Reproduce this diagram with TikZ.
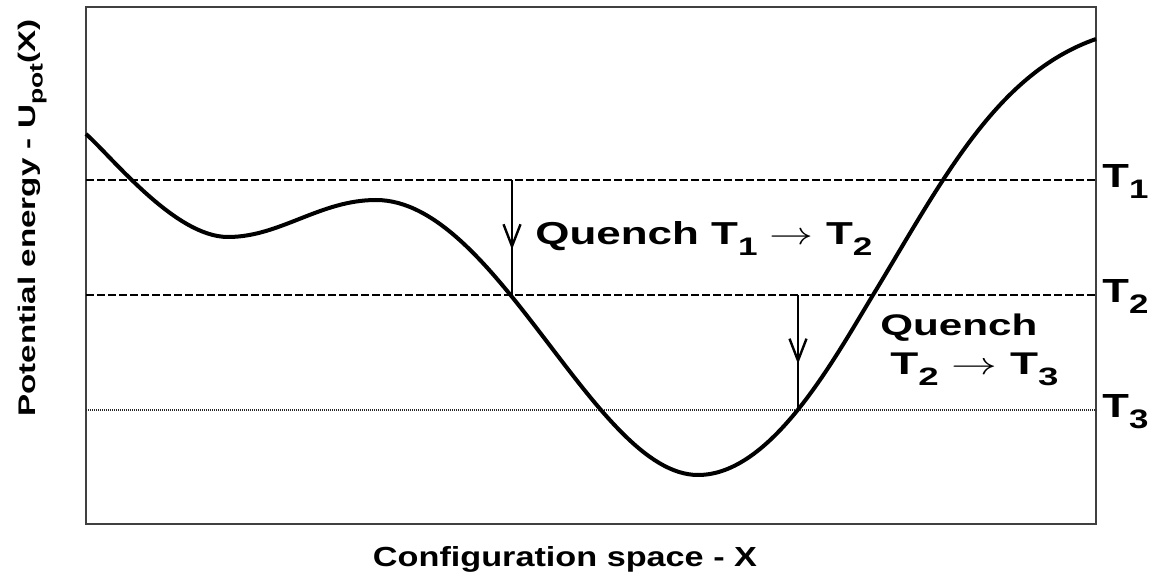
\documentclass[tikz,border=0pt]{standalone}
\usepackage{fontspec}
\setmainfont{Liberation Sans}
\usetikzlibrary{arrows.meta,decorations.markings}
\newcommand\lowidx[1]{\raisebox{-0.32em}{\scalebox{0.8}{#1}}}
\tikzset{
  level/.style={line width=0.7pt,dash pattern=on 4pt off 1.5pt},
  lowlevel/.style={line width=0.8pt,black!85,dash pattern=on 0.6pt off 0.4pt},
  quench/.style={line width=1.2pt,postaction={decorate},
    decoration={markings,mark=at position 0.6 with
      {\arrow{Straight Barb[length=11pt,width=8.5pt,line width=1.2pt]}}}},
  lbl/.style={inner sep=0pt,anchor=base west,font=\bfseries},
}
\begin{document}
\begin{tikzpicture}[x=0.5pt,y=-0.5pt]
  \useasboundingbox (0,0) rectangle (1157,582);
  \draw[black!75,line width=0.9pt] (86,7) rectangle (1096,524);

  \draw[level] (86,180) -- (1096,180);
  \draw[level] (86,295) -- (1096,295);
  \draw[lowlevel] (86,410) -- (1096,410);

  \draw[line width=2pt,line join=round]
    (86,134) .. controls (112,157) and (175,237) .. (228,237)
             .. controls (280,237) and (320,200) .. (376,200)
             .. controls (497,200) and (595,475) .. (698,475)
             .. controls (771,475) and (833,361) .. (873,295)
             .. controls (943,179.5) and (996,74) .. (1096,39);

  \coordinate (a1) at (512,180);
  \coordinate (b1) at (512,296);
  \coordinate (a2) at (798,295);
  \coordinate (b2) at (798,410);
  \draw[quench] (a1) -- (b1);
  \draw[quench] (a2) -- (b2);

  \node[lbl] (q12) at (535,245)
    {\resizebox{168.5pt}{11.5pt}{Quench T\lowidx{1}~$\rightarrow$~T\lowidx{2}}};
  \node[lbl] (q23a) at (880,336) {\resizebox{78.5pt}{10.8pt}{Quench}};
  \node[lbl] (q23b) at (890,375)
    {\resizebox{84pt}{10.8pt}{T\lowidx{2}~$\rightarrow$~T\lowidx{3}}};

  \node[lbl] (t1) at (1102,188) {\resizebox{23pt}{11.5pt}{T\lowidx{1}}};
  \node[lbl] (t2) at (1102,303) {\resizebox{23pt}{11.5pt}{T\lowidx{2}}};
  \node[lbl] (t3) at (1102,418) {\resizebox{23pt}{11.5pt}{T\lowidx{3}}};

  \node[inner sep=0pt,anchor=base,font=\bfseries] (xlab) at (565,567)
    {\resizebox{192pt}{10pt}{Configuration space - X}};
  \node[inner sep=0pt,anchor=base,rotate=90,font=\bfseries] (ylab) at (35,218)
    {\resizebox{198.5pt}{8.7pt}{Potential energy - U\lowidx{pot}(X)}};
\end{tikzpicture}
\end{document}
